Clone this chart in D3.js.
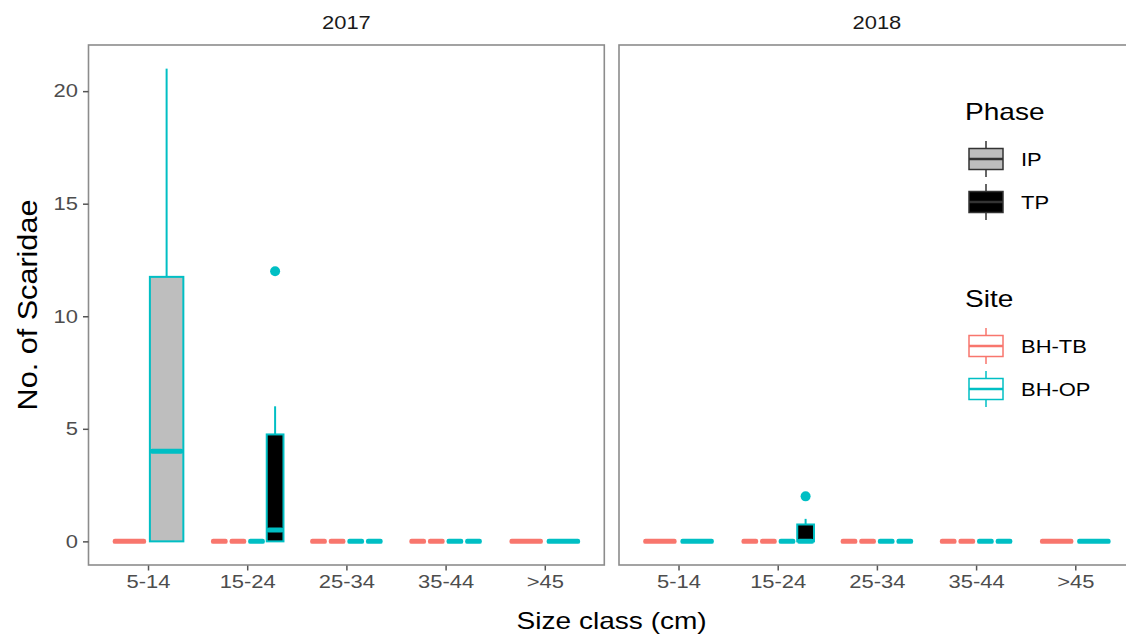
<!DOCTYPE html>
<html>
<head>
<meta charset="utf-8">
<script src="https://cdn.jsdelivr.net/npm/d3@7"></script>
<style>
  html, body { margin: 0; padding: 0; background: #fff; }
  svg { display: block; font-family: "Liberation Sans", Arial, Helvetica, sans-serif; }
</style>
</head>
<body>
<svg id="chart" width="1126" height="637"></svg>
<script>
// Size classes on the x axis and the two survey years (facets)
const sizeClasses = ["5-14", "15-24", "25-34", "35-44", ">45"];
const years = ["2017", "2018"];
const sites = ["BH-TB", "BH-OP"];
const phases = ["IP", "TP"];
const yTicks = [0, 5, 10, 15, 20];

// One entry per box: facet, size class, site, phase and its five-number summary
const boxYear   = ["2017","2017", "2017","2017","2017","2017", "2017","2017","2017","2017", "2017","2017","2017","2017", "2017","2017",
                   "2018","2018", "2018","2018","2018","2018", "2018","2018","2018","2018", "2018","2018","2018","2018", "2018","2018"];
const boxClass  = ["5-14","5-14", "15-24","15-24","15-24","15-24", "25-34","25-34","25-34","25-34", "35-44","35-44","35-44","35-44", ">45",">45",
                   "5-14","5-14", "15-24","15-24","15-24","15-24", "25-34","25-34","25-34","25-34", "35-44","35-44","35-44","35-44", ">45",">45"];
const boxSite   = ["BH-TB","BH-OP", "BH-TB","BH-TB","BH-OP","BH-OP", "BH-TB","BH-TB","BH-OP","BH-OP", "BH-TB","BH-TB","BH-OP","BH-OP", "BH-TB","BH-OP",
                   "BH-TB","BH-OP", "BH-TB","BH-TB","BH-OP","BH-OP", "BH-TB","BH-TB","BH-OP","BH-OP", "BH-TB","BH-TB","BH-OP","BH-OP", "BH-TB","BH-OP"];
const boxPhase  = ["IP","IP", "IP","TP","IP","TP", "IP","TP","IP","TP", "IP","TP","IP","TP", "TP","TP",
                   "IP","IP", "IP","TP","IP","TP", "IP","TP","IP","TP", "IP","TP","IP","TP", "TP","TP"];
const whiskerLo = [0,0, 0,0,0,0, 0,0,0,0, 0,0,0,0, 0,0,  0,0, 0,0,0,0, 0,0,0,0, 0,0,0,0, 0,0];
const q1        = [0,0, 0,0,0,0, 0,0,0,0, 0,0,0,0, 0,0,  0,0, 0,0,0,0, 0,0,0,0, 0,0,0,0, 0,0];
const median    = [0,4, 0,0,0,0.5, 0,0,0,0, 0,0,0,0, 0,0,  0,0, 0,0,0,0, 0,0,0,0, 0,0,0,0, 0,0];
const q3        = [0,11.75, 0,0,0,4.75, 0,0,0,0, 0,0,0,0, 0,0,  0,0, 0,0,0,0.75, 0,0,0,0, 0,0,0,0, 0,0];
const whiskerHi = [0,21, 0,0,0,6, 0,0,0,0, 0,0,0,0, 0,0,  0,0, 0,0,0,1, 0,0,0,0, 0,0,0,0, 0,0];

// Outlying counts (index into the box lists above)
const outlierBox   = [5, 21];
const outlierValue = [12, 2];

const siteColor = d3.scaleOrdinal().domain(sites).range(["#F8766D", "#00BFC4"]);
const phaseFill = d3.scaleOrdinal().domain(phases).range(["#BEBEBE", "#000000"]);

// text is drawn slightly wide (horizontal stretch)
const SX = 1.22;
const tickFont = 18, titleFont = 23;

const svg = d3.select("#chart");
const panelTop = 45, panelBottom = 565, panelW = 515.8;
const panelLeft = { "2017": 88.5, "2018": 619 };

const y = d3.scaleLinear().domain([-1.05, 22.05]).range([panelBottom, panelTop]);

const boxes = boxYear.map((yr, i) => ({
  i, year: yr, cls: boxClass[i], site: boxSite[i], phase: boxPhase[i],
  lo: whiskerLo[i], q1: q1[i], med: median[i], q3: q3[i], hi: whiskerHi[i]
}));

function label(x, yPos, txt, size, color, anchor) {
  return svg.append("text")
    .attr("transform", `translate(${x},${yPos}) scale(${SX},1)`)
    .attr("text-anchor", anchor || "start")
    .attr("font-size", size).attr("fill", color).text(txt);
}

years.forEach(yr => {
  const left = panelLeft[yr];
  const x = d3.scalePoint().domain(sizeClasses).range([left, left + panelW]).padding(0.6);
  const step = x.step();
  const g = svg.append("g");

  // facet strip label
  label(left + panelW / 2, 29, yr, tickFont, "#1A1A1A", "middle");

  // x axis
  const xAxis = svg.append("g")
    .attr("transform", `translate(0,${panelBottom})`)
    .call(d3.axisBottom(x).tickSize(5.5).tickPadding(5));
  xAxis.select(".domain").remove();
  xAxis.selectAll("line").attr("stroke", "#555").attr("stroke-width", 1.5);
  xAxis.selectAll("text").attr("font-size", tickFont).attr("fill", "#4D4D4D")
    .attr("font-family", "Liberation Sans, Arial, sans-serif")
    .attr("transform", `scale(${SX},1)`);

  // boxes, dodged within each size class
  sizeClasses.forEach(cls => {
    const grp = boxes.filter(b => b.year === yr && b.cls === cls);
    const c = x(cls);
    const band = d3.scaleBand().domain(grp.map(b => b.i))
      .range([c - 0.375 * step, c + 0.375 * step])
      .paddingInner(0.1).paddingOuter(0.05);
    grp.forEach(b => {
      const x0 = band(b.i), w = band.bandwidth(), xm = x0 + w / 2;
      const col = siteColor(b.site);
      // whiskers
      if (b.hi > b.q3) g.append("line").attr("x1", xm).attr("x2", xm)
        .attr("y1", y(b.q3)).attr("y2", y(b.hi)).attr("stroke", col).attr("stroke-width", 2);
      if (b.lo < b.q1) g.append("line").attr("x1", xm).attr("x2", xm)
        .attr("y1", y(b.q1)).attr("y2", y(b.lo)).attr("stroke", col).attr("stroke-width", 2);
      // box
      if (b.q3 > b.q1) {
        g.append("rect").attr("x", x0).attr("width", w)
          .attr("y", y(b.q3)).attr("height", y(b.q1) - y(b.q3))
          .attr("fill", phaseFill(b.phase)).attr("stroke", col).attr("stroke-width", 2);
      }
      // median (a flat box collapses onto it)
      g.append("rect").attr("x", x0).attr("width", w)
        .attr("y", y(b.med) - 2.5).attr("height", 5).attr("rx", 2.2)
        .attr("fill", col);
    });
    // outliers
    outlierBox.forEach((bi, k) => {
      const b = boxes[bi];
      if (b.year !== yr || b.cls !== cls) return;
      g.append("circle").attr("cx", band(b.i) + band.bandwidth() / 2).attr("cy", y(outlierValue[k]))
        .attr("r", 5).attr("fill", siteColor(b.site));
    });
  });

  // panel border
  svg.append("rect").attr("x", left).attr("y", panelTop)
    .attr("width", panelW).attr("height", panelBottom - panelTop)
    .attr("fill", "none").attr("stroke", "#8C8C8C").attr("stroke-width", 1.6);
});

// y axis on the first panel
const yAxis = svg.append("g")
  .attr("transform", `translate(${panelLeft["2017"]},0)`)
  .call(d3.axisLeft(y).tickValues(yTicks).tickSize(5.5).tickPadding(5));
yAxis.select(".domain").remove();
yAxis.selectAll("line").attr("stroke", "#555").attr("stroke-width", 1.5);
yAxis.selectAll("text").attr("font-size", tickFont).attr("fill", "#4D4D4D")
  .attr("font-family", "Liberation Sans, Arial, sans-serif")
  .attr("x", -10.5 / SX)
  .attr("transform", `scale(${SX},1)`);

// axis titles
const fullCenter = (panelLeft["2017"] + panelLeft["2018"] + panelW) / 2;
label(fullCenter, 629, "Size class (cm)", titleFont, "#000", "middle");
svg.append("text")
  .attr("transform", `translate(37,${(panelTop + panelBottom) / 2}) rotate(-90) scale(1.33,${SX})`)
  .attr("text-anchor", "middle").attr("font-size", titleFont).attr("fill", "#000").text("No. of Scaridae");

// legends
function legendKey(gx, gy, fill, stroke) {
  const k = svg.append("g").attr("transform", `translate(${gx},${gy})`);
  k.append("line").attr("x1", 17).attr("x2", 17).attr("y1", -18).attr("y2", 18)
    .attr("stroke", stroke).attr("stroke-width", 1.5);
  k.append("rect").attr("x", 0).attr("y", -10.5).attr("width", 34).attr("height", 21)
    .attr("fill", fill).attr("stroke", stroke).attr("stroke-width", 1.5);
  k.append("line").attr("x1", 0).attr("x2", 34).attr("y1", 0).attr("y2", 0)
    .attr("stroke", stroke).attr("stroke-width", 2.5);
}
const legX = 965;
label(legX, 120, "Phase", titleFont, "#000");
phases.forEach((p, i) => {
  const cy = 159 + i * 43;
  legendKey(legX + 4, cy, phaseFill(p), "#333333");
  label(1021, cy + 6.5, p, tickFont, "#000");
});
label(legX, 307, "Site", titleFont, "#000");
sites.forEach((s, i) => {
  const cy = 346 + i * 43;
  legendKey(legX + 4, cy, "#fff", siteColor(s));
  label(1021, cy + 6.5, s, tickFont, "#000");
});
</script>
</body>
</html>
